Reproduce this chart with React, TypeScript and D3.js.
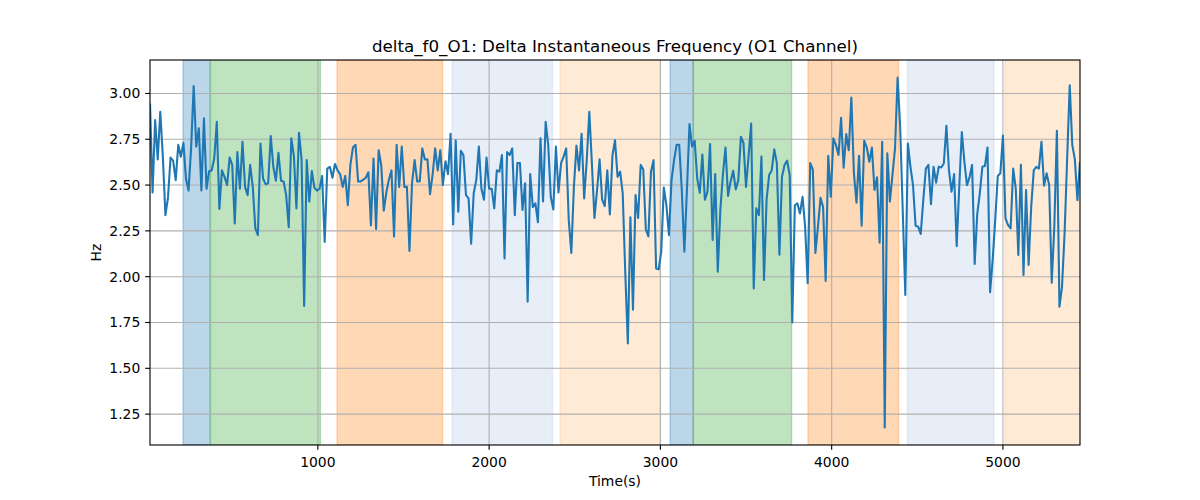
import React from "react";
import * as d3 from "d3";

// sampled every 15 s starting at t = 20
const sampleStart = 20;
const sampleStep = 15;
const deltaF0 = [
  2.945, 2.46, 2.855, 2.64, 2.9, 2.655, 2.336, 2.43, 2.65, 2.633,
  2.527, 2.72, 2.655, 2.73, 2.536, 2.47, 2.7, 3.04, 2.71, 2.81,
  2.47, 2.864, 2.48, 2.576, 2.58, 2.645, 2.845, 2.37, 2.58, 2.545,
  2.5, 2.65, 2.61, 2.29, 2.68, 2.48, 2.736, 2.49, 2.445, 2.61,
  2.49, 2.264, 2.227, 2.727, 2.536, 2.505, 2.51, 2.767, 2.6, 2.524,
  2.676, 2.524, 2.52, 2.445, 2.27, 2.755, 2.66, 2.373, 2.785, 2.64,
  1.84, 2.636, 2.41, 2.576, 2.485, 2.47, 2.48, 2.55, 2.19, 2.59,
  2.6, 2.54, 2.615, 2.58, 2.56, 2.49, 2.55, 2.39, 2.61, 2.705,
  2.72, 2.52, 2.52, 2.53, 2.54, 2.57, 2.28, 2.645, 2.26, 2.69,
  2.61, 2.36, 2.46, 2.53, 2.58, 2.22, 2.72, 2.49, 2.71, 2.49,
  2.49, 2.14, 2.51, 2.636, 2.52, 2.52, 2.7, 2.64, 2.64, 2.45,
  2.555, 2.7, 2.58, 2.69, 2.5, 2.63, 2.56, 2.78, 2.285, 2.745,
  2.355, 2.687, 2.664, 2.445, 2.427, 2.18, 2.455, 2.527, 2.71, 2.48,
  2.42, 2.65, 2.48, 2.48, 2.373, 2.58, 2.573, 2.664, 2.1, 2.68,
  2.664, 2.7, 2.336, 2.62, 2.62, 2.364, 2.51, 1.864, 2.56, 2.38,
  2.4, 2.297, 2.755, 2.41, 2.845, 2.72, 2.436, 2.367, 2.71, 2.46,
  2.62, 2.655, 2.7, 2.31, 2.13, 2.49, 2.715, 2.58, 2.78, 2.427,
  2.636, 2.9, 2.62, 2.32, 2.47, 2.64, 2.42, 2.385, 2.58, 2.34,
  2.66, 2.745, 2.545, 2.573, 2.455, 2.02, 1.636, 2.324, 1.82, 2.445,
  2.32, 2.61, 2.585, 2.26, 2.22, 2.573, 2.636, 2.045, 2.04, 2.136,
  2.487, 2.39, 2.227, 2.527, 2.636, 2.72, 2.72, 2.473, 2.136, 2.473,
  2.833, 2.71, 2.742, 2.536, 2.458, 2.667, 2.42, 2.464, 2.724, 2.2,
  2.56, 2.027, 2.364, 2.555, 2.705, 2.44, 2.518, 2.578, 2.476, 2.527,
  2.764, 2.73, 2.49, 2.66, 2.836, 1.936, 2.373, 2.336, 2.655, 1.982,
  2.42, 2.555, 2.58, 2.695, 2.62, 2.12, 2.545, 2.61, 2.633, 2.555,
  1.75, 2.39, 2.4, 2.345, 2.436, 2.273, 1.964, 2.62, 2.585, 2.13,
  2.273, 2.43, 2.38, 1.977, 2.66, 2.436, 2.755, 2.718, 2.664, 2.867,
  2.595, 2.778, 2.69, 2.978, 2.564, 2.404, 2.66, 2.278, 2.742, 2.705,
  2.627, 2.705, 2.473, 2.542, 2.186, 2.736, 1.177, 2.673, 2.41, 2.555,
  2.7, 3.087, 2.818, 2.36, 1.9, 2.727, 2.6, 2.5, 2.278, 2.273,
  2.233, 2.418, 2.59, 2.61, 2.396, 2.6, 2.513, 2.6, 2.596, 2.618,
  2.824, 2.58, 2.464, 2.56, 2.167, 2.49, 2.79, 2.627, 2.5, 2.542,
  2.61, 2.07, 2.342, 2.455, 2.6, 2.604, 2.705, 1.915, 2.09, 2.31,
  2.55, 2.564, 2.77, 2.318, 2.282, 2.264, 2.59, 2.48, 2.118, 2.61,
  2.01, 2.473, 2.064, 2.38, 2.58, 2.6, 2.59, 2.736, 2.496, 2.564,
  2.5, 1.967, 2.273, 2.796, 1.836, 1.945, 2.236, 2.645, 3.045, 2.718,
  2.64, 2.418, 2.627,
];

const spanStarts = [213, 373, 1112, 1784, 2415, 3057, 3192, 3862, 4442, 5012];
const spanEnds = [371, 1015, 1728, 2370, 2997, 3192, 3766, 4391, 4948, 5460];
const spanColors = [
  "#1f77b4", "#2ca02c", "#ff7f0e", "#aec7e8", "#ffbb78",
  "#1f77b4", "#2ca02c", "#ff7f0e", "#aec7e8", "#ffbb78",
];

const xTicks = [1000, 2000, 3000, 4000, 5000];
const yTicks = [1.25, 1.5, 1.75, 2.0, 2.25, 2.5, 2.75, 3.0];

const W = 1200;
const H = 500;
const margin = { top: 60, right: 120, bottom: 55, left: 150 };
const font = "DejaVu Sans, sans-serif";
const pt = 100 / 72;

export default function App() {
  const pts = deltaF0.map((v, i) => ({ t: sampleStart + i * sampleStep, v }));
  const [tMin, tMax] = d3.extent(pts, d => d.t) as [number, number];
  const [vMin, vMax] = d3.extent(pts, d => d.v) as [number, number];
  const pad = (vMax - vMin) * 0.05;

  const x = d3.scaleLinear().domain([tMin, tMax]).range([margin.left, W - margin.right]);
  const y = d3.scaleLinear().domain([vMin - pad, vMax + pad]).range([H - margin.bottom, margin.top]);

  const line = d3
    .line<{ t: number; v: number }>()
    .x(d => x(d.t))
    .y(d => y(d.v));

  const left = margin.left;
  const right = W - margin.right;
  const top = margin.top;
  const bottom = H - margin.bottom;
  const tickLen = 3.5 * pt;

  return (
    <svg width={W} height={H} style={{ position: "absolute", left: 0, top: 0, background: "#fff" }} fontFamily={font}>
      <defs>
        <clipPath id="plot">
          <rect x={left} y={top} width={right - left} height={bottom - top} />
        </clipPath>
      </defs>
      <g clipPath="url(#plot)">
        {spanStarts.map((s, i) => (
          <rect
            key={i}
            x={x(s)}
            y={top}
            width={x(spanEnds[i]) - x(s)}
            height={bottom - top}
            fill={spanColors[i]}
            fillOpacity={0.3}
            stroke={spanColors[i]}
            strokeOpacity={0.3}
            strokeWidth={pt}
          />
        ))}
        {xTicks.map(t => (
          <line key={"gx" + t} x1={x(t)} x2={x(t)} y1={top} y2={bottom} stroke="#b0b0b0" strokeWidth={0.8 * pt} />
        ))}
        {yTicks.map(t => (
          <line key={"gy" + t} x1={left} x2={right} y1={y(t)} y2={y(t)} stroke="#b0b0b0" strokeWidth={0.8 * pt} />
        ))}
        <path d={line(pts) ?? ""} fill="none" stroke="#1f77b4" strokeWidth={1.5 * pt} strokeLinejoin="round" />
      </g>
      <rect x={left} y={top} width={right - left} height={bottom - top} fill="none" stroke="#000" strokeWidth={0.8 * pt} />
      {xTicks.map(t => (
        <g key={"tx" + t}>
          <line x1={x(t)} x2={x(t)} y1={bottom} y2={bottom + tickLen} stroke="#000" strokeWidth={0.8 * pt} />
          <text x={x(t)} y={bottom + 21.5} textAnchor="middle" fontSize={13.9} fill="#000">
            {t}
          </text>
        </g>
      ))}
      {yTicks.map(t => (
        <g key={"ty" + t}>
          <line x1={left - tickLen} x2={left} y1={y(t)} y2={y(t)} stroke="#000" strokeWidth={0.8 * pt} />
          <text x={left - 2 * tickLen} y={y(t)} dy="0.35em" textAnchor="end" fontSize={13.9} fill="#000">
            {t.toFixed(2)}
          </text>
        </g>
      ))}
      <text x={(left + right) / 2} y={top - 6 * pt} textAnchor="middle" fontSize={16.7} fill="#000">
        delta_f0_O1: Delta Instantaneous Frequency (O1 Channel)
      </text>
      <text x={(left + right) / 2} y={486} textAnchor="middle" fontSize={13.9} fill="#000">
        Time(s)
      </text>
      <text transform={`translate(100.5,${(top + bottom) / 2}) rotate(-90)`} textAnchor="middle" fontSize={13.9} fill="#000">
        Hz
      </text>
    </svg>
  );
}
